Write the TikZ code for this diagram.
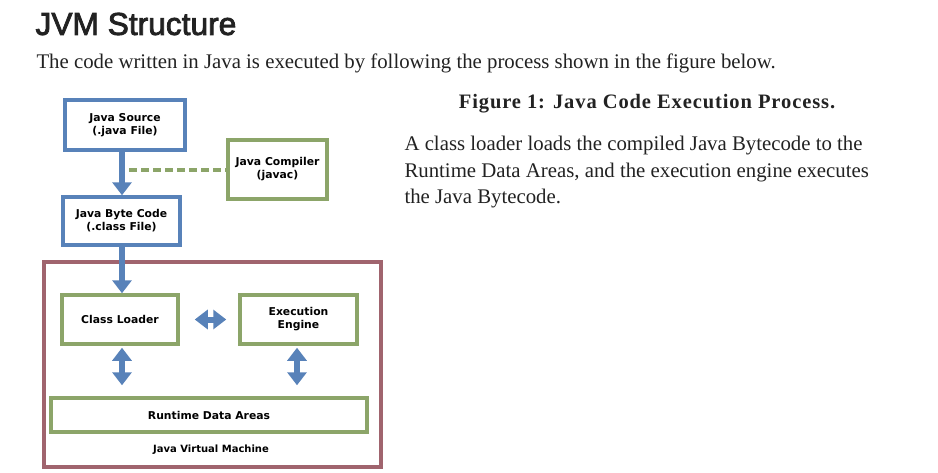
\documentclass[tikz,border=0pt]{standalone}
\usepackage{fontspec}
\setmainfont{Liberation Serif}
\newfontfamily\headfont[FakeBold=2.5]{Liberation Sans}
\newfontfamily\boxfont{DejaVu Sans}
\usetikzlibrary{arrows.meta,positioning}
\definecolor{jvmBlue}{RGB}{88, 130, 185}
\definecolor{jvmGreen}{RGB}{140, 165, 105}
\definecolor{jvmBrown}{RGB}{160, 100, 110}
\definecolor{jvmText}{RGB}{34, 34, 34}

\begin{document}
\begin{tikzpicture}[
  x=1pt, y=-1pt,
  bluebox/.style={
    draw=jvmBlue,
    line width=3.5pt,
    fill=white,
    align=center,
    inner sep=0pt,
    font=\boxfont\bfseries\fontsize{10.8}{13}\selectfont
  },
  greenbox/.style={bluebox,draw=jvmGreen},
  flow/.style={-{Triangle[width=19pt,length=13pt]},line width=6pt,jvmBlue},
  biflow/.style={{Triangle[width=19pt,length=13pt]}-{Triangle[width=19pt,length=13pt]},line width=6pt,jvmBlue}
]
  \useasboundingbox[fill=white] (0,0) rectangle (938,472);
  % heading and text
  \node[anchor=west,text=jvmText,font=\headfont\fontsize{31.7}{36}\selectfont] (title) at (32,24) {JVM Structure};
  \node[anchor=west,text=jvmText,font=\fontsize{20.8}{25}\selectfont] (intro) at (33,63) {The code written in Java is executed by following the process shown in the figure below.};
  \node[text=jvmText,font=\bfseries\fontsize{20.5}{24}\selectfont\addfontfeature{LetterSpace=4.4}] (caption) at (647,104) {Figure 1: Java Code Execution Process.};
  \node[anchor=north west,text=jvmText,align=left,font=\fontsize{20.8}{26.5}\selectfont] (para) at (401,133)
    {A class loader loads the compiled Java Bytecode to the\\Runtime Data Areas, and the execution engine executes\\the Java Bytecode.};
  % JVM frame
  \node[draw=jvmBrown,line width=3.5pt,minimum width=337pt,minimum height=205pt] (jvm) at (212.5,364.5) {};
  \node[font=\boxfont\bfseries\fontsize{10}{12}\selectfont] (jvmlabel) at (211,450) {Java Virtual Machine};
  % boxes
  \node[bluebox,minimum width=120pt,minimum height=50pt] (source) at (125,125) {Java Source\\(.java File)};
  \node[greenbox,minimum width=99pt,minimum height=59pt] (compiler) at (277.5,169.5) {Java Compiler\\(javac)};
  \node[bluebox,minimum width=117pt,minimum height=48pt] (bytecode) at (121.5,221) {Java Byte Code\\(.class File)};
  \node[greenbox,minimum width=116pt,minimum height=49pt] (loader) at (120,319.5) {Class Loader};
  \node[greenbox,minimum width=117pt,minimum height=49pt] (engine) at (298.5,319.5) {Execution\\Engine};
  \node[greenbox,minimum width=316pt,minimum height=34pt] (runtime) at (209,415) {Runtime Data Areas};
  % connectors
  \coordinate (tap) at (129,170);
  \draw[jvmGreen,line width=4pt,dash pattern=on 8pt off 4pt] (tap) -- (compiler.west |- tap);
  \draw[flow] (source.south -| 122,0) -- (bytecode.north -| 122,0);
  \draw[flow] (bytecode.south -| 122,0) -- (loader.north -| 122,0);
  \draw[biflow] ([xshift=15pt]loader.east) -- ([xshift=-12pt]engine.west);
  \draw[biflow] ([yshift=-2pt]loader.south -| 122,0) -- ([yshift=11pt]runtime.north -| 122,0);
  \draw[biflow] ([yshift=-2pt]engine.south -| 297,0) -- ([yshift=11pt]runtime.north -| 297,0);
\end{tikzpicture}
\end{document}
